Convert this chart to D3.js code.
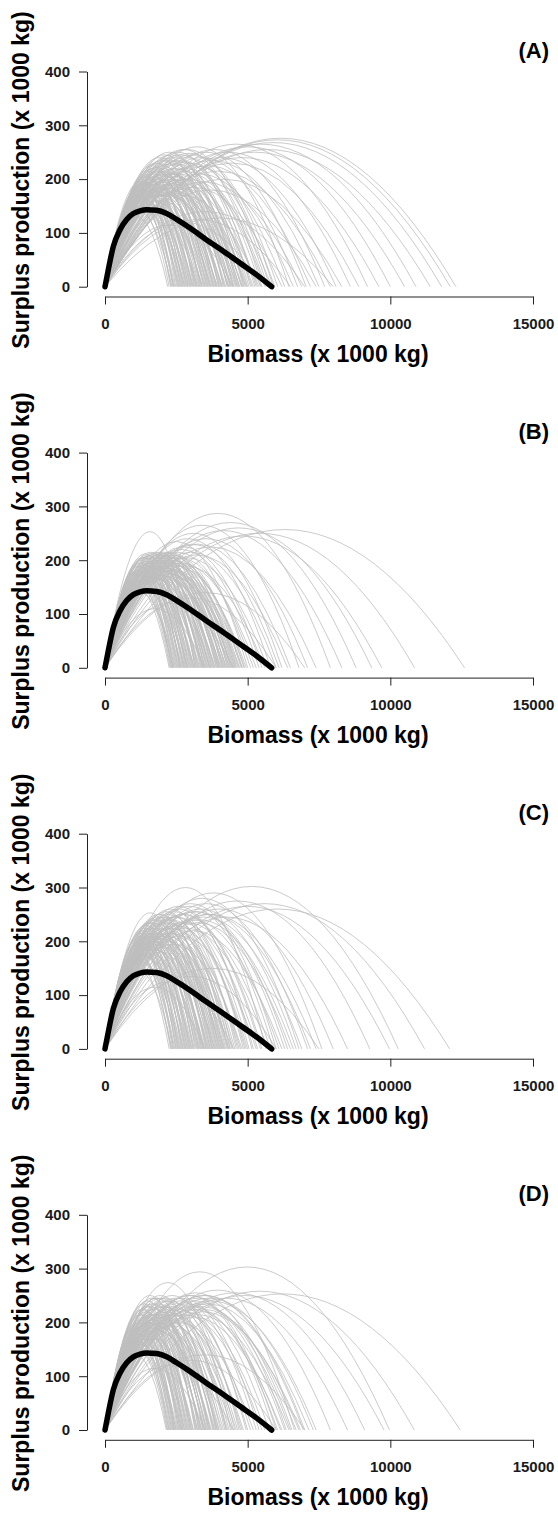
<!DOCTYPE html>
<html>
<head>
<meta charset="utf-8">
<script src="https://cdn.jsdelivr.net/npm/d3@7"></script>
<style>
  body { margin: 0; background: #fff; }
  svg { display: block; }
</style>
</head>
<body>
<div id="chart"></div>
<script>
// Surplus production curves, four panels
const panelLabels = ["(A)", "(B)", "(C)", "(D)"];
const xTicks = [0, 5000, 10000, 15000];
const yTicks = [0, 100, 200, 300, 400];

// fitted curve (black)
const bioBlack = [0, 117, 292, 526, 760, 993, 1227, 1460, 1811, 2162, 2512, 2979, 3564, 4148, 4732, 5316, 5841];
const spBlack  = [0, 32, 75, 106, 125, 136, 141, 143, 142, 136, 125, 109, 87, 66, 44, 22, 0];

// grey curves: carrying capacity (where the curve meets 0) and peak height
const kA = [2200,2250,2300,2350,2400,2450,2480,2550,2600,2650,2700,2750,2800,2850,2900,2950,
  3000,3050,3100,3150,3200,3250,3300,3350,3400,3450,3500,3550,3600,3650,3700,3750,3800,3850,3900,3950,
  4000,4050,4100,4150,4200,4300,4350,4400,4450,4500,4600,4650,4700,4800,4850,4950,
  5000,5100,5200,5300,5400,5500,5600,5700,5770,5850,5950,
  6050,6200,6300,6450,6600,6750,6900,7050,7200,7400,7500,
  7700,7900,8100,8300,8600,8900,9200,
  9600,10000,10500,10900,11400,11800,12100,12300,
  5500,6500,8000,4500,7000,
  2320,2380,2420,2520,2580,2620,2680,2720,2780,2820,2880,2920,2980,3020,3080,3120,3180,3220,3280,3320,
  3380,3420,3480,3520,3580,3620,3680,3720,3780,3820,3880,3920,3980,4020,4080,4120,4180,4230,4280,4330,
  4380,4420,4480,4530,4580,4630,4680,4730,4780,4830,4880,4920,4980,5050,5150,5250,5350,5450,5650,5900];
const msyA = [130,150,170,140,185,160,196,175,150,190,165,180,140,195,170,155,
  185,200,165,210,180,150,195,220,175,205,160,230,190,215,170,200,240,185,210,160,
  225,195,180,245,205,215,170,235,190,250,210,175,230,200,240,185,
  220,250,195,235,170,255,215,240,255,200,230,
  245,185,225,260,210,240,195,250,225,180,235,
  255,215,240,200,250,230,265,
  240,260,250,265,255,268,273,276,
  120,125,128,115,140,
  165,178,150,190,168,182,158,195,172,186,160,205,176,192,168,215,184,200,170,225,
  188,160,210,196,178,222,200,182,230,172,215,195,235,190,208,176,220,198,238,185,
  212,172,228,200,182,245,210,192,220,178,235,205,190,228,210,245,200,232,220,248];

const kB = [2250,2300,2350,2400,2450,2500,2550,2600,2650,2700,2750,2800,2850,2900,2950,3000,
  3050,3100,3150,3200,3250,3300,3350,3400,3450,3500,3550,3600,3650,3700,3750,3800,3850,3900,3950,
  4000,4050,4100,4150,4200,4300,4350,4400,4500,4550,4600,4700,4800,4900,
  5000,5200,5400,5600,5800,6000,6200,6500,6800,7100,7400,
  7900,8300,8800,9350,9700,10850,12600,
  2380,2620,2880,3120,3420,3680,4250,4450,3980,2780,
  4500,6000,3500,7000,
  2280,2330,2370,2420,2470,2520,2570,2630,2670,2720,2770,2820,2870,2920,2970,3020,3070,3130,3170,3220,
  3270,3320,3370,3430,3470,3520,3570,3620,3670,3720,3770,3820,3870,3920,3970,4020,4070,4120,4170,4220,
  4270,4320,4370,4420,4470,4520,4570,4620,4670,4720,4770,4820,4870,4950,5100,5300,5500,5700,6100,6400];
const msyB = [150,175,160,190,140,180,200,165,185,150,205,175,190,160,210,180,
  195,170,253,205,185,160,210,190,175,215,200,165,205,185,215,195,175,210,190,
  200,180,215,195,170,210,190,205,185,215,200,180,210,195,
  235,205,220,190,240,215,250,230,265,240,225,
  287,255,270,260,245,250,257,
  170,195,205,180,200,170,185,175,205,160,
  120,130,110,140,
  160,182,150,195,170,188,158,205,176,192,165,212,182,198,170,208,188,160,215,178,
  196,170,205,185,212,168,200,190,175,210,182,198,165,205,188,212,172,195,180,208,
  165,200,186,214,175,196,180,210,170,192,205,182,200,190,215,195,225,205,230,210];

const kC = [2250,2300,2350,2400,2450,2500,2550,2600,2650,2700,2750,2800,2850,2900,2950,3000,
  3050,3100,3160,3200,3250,3300,3350,3400,3450,3500,3550,3600,3650,3700,3750,3800,3850,3900,3950,
  4000,4050,4100,4150,4200,4300,4350,4400,4500,4600,4700,4800,4900,
  5000,5150,5300,5450,5640,5800,6000,6200,6400,6600,6800,
  7200,7600,8000,8500,9280,9970,10280,11200,12080,
  4500,6000,3500,7500,
  2320,2370,2420,2480,2530,2580,2630,2680,2730,2780,2830,2880,2930,2980,3030,3080,3130,3230,3280,3330,
  3380,3430,3480,3530,3580,3630,3680,3730,3780,3830,3880,3930,3980,4030,4080,4130,4180,4230,4280,4330,
  4380,4450,4550,4650,4750,4850,4950,5050,5200,5350,5500,5700,5900,6100,6300,6500,6700,6900,7100,7400];
const msyC = [160,180,145,200,170,190,215,160,185,205,175,225,195,170,210,185,
  200,220,253,190,210,175,235,200,215,185,240,205,225,195,250,215,180,230,205,
  245,210,190,235,220,255,200,240,215,260,225,195,245,
  230,265,210,250,300,235,270,220,255,240,280,
  250,290,260,245,275,265,302,270,260,
  125,135,115,150,
  175,195,165,210,185,200,175,220,192,208,180,230,198,215,185,235,205,190,225,200,
  240,210,185,230,215,195,245,220,200,235,210,250,225,205,240,215,195,245,225,210,
  235,250,225,240,215,255,230,245,260,235,250,225,265,240,255,235,260,245,270,250];

const kD = [2150,2200,2250,2300,2350,2400,2450,2500,2550,2600,2650,2700,2750,2800,2850,2900,2950,3000,
  3050,3150,3200,3250,3300,3350,3400,3450,3500,3600,3650,3700,3800,3850,3900,
  4000,4100,4200,4300,4400,4500,4600,4700,4800,
  5000,5200,5400,5600,5900,6050,6200,6350,6500,6640,6800,7000,
  7400,7900,8500,9100,9780,9970,10840,12450,
  2420,2680,3080,3550,3950,4250,
  4500,6000,3500,7000,
  2180,2230,2280,2330,2380,2430,2480,2530,2580,2630,2680,2730,2780,2830,2880,2930,2980,3030,3100,3180,
  3230,3280,3330,3380,3430,3480,3530,3580,3630,3680,3730,3780,3830,3880,3930,3980,4050,4150,4250,4350,
  4450,4550,4650,4750,4850,4950,5100,5300,5500,5750,6000,6150,6300,6450,6550,6700,6850,6950,7150,7300];
const msyD = [140,170,155,190,165,205,180,150,215,185,170,225,195,160,210,180,230,200,
  175,250,215,190,235,205,170,225,195,245,210,185,230,200,245,
  215,190,240,205,274,225,195,250,215,
  235,200,245,220,250,230,210,255,235,294,225,250,
  240,260,245,255,250,303,258,253,
  175,200,185,215,190,230,
  120,130,115,140,
  155,180,165,200,175,215,190,160,225,195,175,235,205,185,220,195,240,210,180,230,
  200,245,215,190,235,205,225,195,245,215,185,235,210,250,220,200,230,210,245,220,
  200,240,215,230,205,245,225,240,215,235,250,225,240,215,245,230,220,250,235,245];

const kSets = [kA, kB, kC, kD];
const msySets = [msyA, msyB, msyC, msyD];

const W = 558, H = 1517, panelStep = 381.1;
const font = "'Liberation Sans', Arial, sans-serif";

const svg = d3.select("#chart")
    .append("svg")
    .attr("width", W)
    .attr("height", H);

const x = d3.scaleLinear().domain([0, 15000]).range([105, 533]);
const y = d3.scaleLinear().domain([0, 400]).range([286.7, 71.5]);

const blackLine = d3.line()
    .x(d => x(d[0]))
    .y(d => y(d[1]))
    .curve(d3.curveMonotoneX);
const blackPts = bioBlack.map((b, i) => [b, spBlack[i]]);

panelLabels.forEach((lab, p) => {
    const g = svg.append("g")
        .attr("transform", `translate(0,${p * panelStep})`);

    // grey curves (Schaefer parabolas: 0 at origin and at K, peak at K/2)
    const curves = kSets[p].map((k, i) => ({k: k, msy: msySets[p][i]}));
    g.append("g")
        .selectAll("path")
        .data(curves)
        .enter()
        .append("path")
        .attr("d", d => {
            const path = d3.path();
            path.moveTo(x(0), y(0));
            path.quadraticCurveTo(x(d.k / 2), y(2 * d.msy), x(d.k), y(0));
            return path.toString();
        })
        .attr("fill", "none")
        .attr("stroke", "#bebebe")
        .attr("stroke-width", 0.8);

    // black curve
    g.append("path")
        .datum(blackPts)
        .attr("d", blackLine)
        .attr("fill", "none")
        .attr("stroke", "#000")
        .attr("stroke-width", 5.5)
        .attr("stroke-linecap", "round")
        .attr("stroke-linejoin", "round");

    // axes
    const yAxis = g.append("g")
        .attr("transform", "translate(87,0)")
        .call(d3.axisLeft(y).tickValues(yTicks).tickSize(8).tickSizeOuter(0).tickPadding(9));
    const xAxis = g.append("g")
        .attr("transform", "translate(0,296.5)")
        .call(d3.axisBottom(x).tickValues(xTicks).tickFormat(d3.format("d")).tickSize(8).tickSizeOuter(0).tickPadding(14));
    [yAxis, xAxis].forEach(a => {
        a.attr("font-size", 15)
         .attr("font-family", font)
         .attr("font-weight", "bold");
        a.selectAll("text").attr("fill", "#1a1a1a");
        a.selectAll("path, line").attr("stroke", "#222");
    });

    // titles
    g.append("text")
        .attr("transform", "translate(29,180) rotate(-90)")
        .attr("text-anchor", "middle")
        .style("font-family", font)
        .style("font-size", "23px")
        .style("font-weight", "bold")
        .text("Surplus production (x 1000 kg)");

    g.append("text")
        .attr("x", 318)
        .attr("y", 362)
        .attr("text-anchor", "middle")
        .style("font-family", font)
        .style("font-size", "23px")
        .style("font-weight", "bold")
        .text("Biomass (x 1000 kg)");

    g.append("text")
        .attr("x", 549)
        .attr("y", 58)
        .attr("text-anchor", "end")
        .style("font-family", font)
        .style("font-size", "22px")
        .style("font-weight", "bold")
        .text(lab);
});
</script>
</body>
</html>
